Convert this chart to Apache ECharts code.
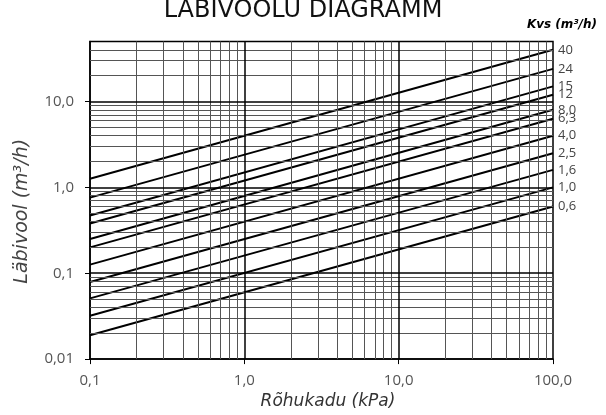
<!DOCTYPE html>
<html>
<head>
<meta charset="utf-8">
<script src="https://cdn.jsdelivr.net/npm/echarts@6/dist/echarts.min.js"></script>
<style>
  html, body { margin: 0; padding: 0; background: #fff; }
  #chart { width: 606px; height: 415px; }
</style>
</head>
<body>
<div id="chart"></div>
<script>
// Kvs joonte andmed (loetud pildilt)
var kvs_labels = ['40', '24', '15', '12', '8,0', '6,3', '4,0', '2,5', '1,6', '1,0', '0,6'];
var flow_at_01kpa = [1.26, 0.76, 0.47, 0.38, 0.25, 0.2, 0.126, 0.079, 0.051, 0.032, 0.019];
var flow_at_100kpa = [40, 24, 15, 12, 8, 6.3, 4, 2.5, 1.6, 1.0, 0.6];
var dp_start = 0.1;
var dp_end = 100;

// telgede jaotused
var x_major = [1, 10];
var x_minor = [0.2, 0.3, 0.4, 0.5, 0.6, 0.7, 0.8, 0.9,
               2, 3, 4, 5, 6, 7, 8, 9,
               20, 30, 40, 50, 60, 70, 80, 90];
var y_major = [0.1, 1, 10];
var y_minor = [0.02, 0.03, 0.04, 0.05, 0.06, 0.07, 0.08, 0.09,
               0.2, 0.3, 0.4, 0.5, 0.6, 0.7, 0.8, 0.9,
               2, 3, 4, 5, 6, 7, 8, 9,
               20, 30, 40];
var x_ticks = [0.1, 1, 10, 100];
var x_tick_labels = ['0,1', '1,0', '10,0', '100,0'];
var y_ticks = [0.01, 0.1, 1, 10];
var y_tick_labels = ['0,01', '0,1', '1,0', '10,0'];

var font = '"Open Sans", sans-serif';
var wide_font = '"DejaVu Sans", sans-serif';

function labelFor(ticks, labels) {
    return function (v) {
        for (var i = 0; i < ticks.length; i++) {
            if (Math.abs(Math.log10(v) - Math.log10(ticks[i])) < 1e-6) return labels[i];
        }
        return '';
    };
}

var grid_lines = [];
x_minor.forEach(function (v) {
    grid_lines.push({ xAxis: v, lineStyle: { color: '#555', width: 1, type: 'solid' } });
});
y_minor.forEach(function (v) {
    grid_lines.push({ yAxis: v, lineStyle: { color: '#555', width: 1, type: 'solid' } });
});
x_major.forEach(function (v) {
    grid_lines.push({ xAxis: v, lineStyle: { color: '#000', width: 1.5, type: 'solid' } });
});
y_major.forEach(function (v) {
    grid_lines.push({ yAxis: v, lineStyle: { color: '#000', width: 1.5, type: 'solid' } });
});

var series = [{
    type: 'line',
    data: [],
    silent: true,
    markLine: {
        silent: true,
        symbol: ['none', 'none'],
        label: { show: false },
        lineStyle: { type: 'solid' },
        data: grid_lines,
        animation: false
    }
}];

flow_at_100kpa.forEach(function (q, i) {
    series.push({
        name: kvs_labels[i],
        type: 'line',
        showSymbol: false,
        symbol: 'none',
        lineStyle: { color: '#000', width: 2 },
        data: [[dp_start, flow_at_01kpa[i]], [dp_end, q]],
        endLabel: {
            show: true,
            formatter: kvs_labels[i],
            color: '#444',
            fontFamily: font,
            fontSize: 13,
            distance: 5
        }
    });
});

var chart_option = {
    animation: false,
    backgroundColor: '#fff',
    title: [{
        text: 'LÄBIVOOLU DIAGRAMM',
        left: 'center',
        top: -6,
        textStyle: { fontFamily: wide_font, fontSize: 24, fontWeight: 'normal', color: '#111' }
    }, {
        text: 'Kvs (m³/h)',
        right: 4,
        top: 14,
        textStyle: { fontFamily: wide_font, fontSize: 12, fontWeight: 'bold', fontStyle: 'italic', color: '#000' }
    }],
    grid: {
        left: 90,
        right: 53,
        top: 41.5,
        bottom: 47,
        show: true,
        borderColor: '#000',
        borderWidth: 1.5,
        backgroundColor: 'transparent'
    },
    xAxis: {
        type: 'log',
        logBase: 10,
        min: 0.1,
        max: 100,
        name: 'Rõhukadu (kPa)',
        nameLocation: 'middle',
        nameGap: 31,
        nameTextStyle: { fontFamily: wide_font, fontSize: 17, fontStyle: 'italic', color: '#333', padding: [0, 0, 0, 13] },
        axisLine: { lineStyle: { color: '#000', width: 1.5 } },
        axisTick: { show: true, length: 5, customValues: x_ticks, lineStyle: { color: '#000' } },
        axisLabel: {
            customValues: x_ticks,
            formatter: labelFor(x_ticks, x_tick_labels),
            fontFamily: font, fontSize: 15, color: '#555', margin: 14
        },
        splitLine: { show: false },
        minorSplitLine: { show: false }
    },
    yAxis: {
        type: 'log',
        logBase: 10,
        min: 0.01,
        max: 50,
        name: 'Läbivool (m³/h)',
        nameLocation: 'middle',
        nameGap: 58,
        nameTextStyle: { fontFamily: wide_font, fontSize: 19, fontStyle: 'italic', color: '#444', padding: [0, 22, 0, 0] },
        axisLine: { lineStyle: { color: '#000', width: 1.5 } },
        axisTick: { show: true, length: 5, customValues: y_ticks, lineStyle: { color: '#000' } },
        axisLabel: {
            customValues: y_ticks,
            formatter: labelFor(y_ticks, y_tick_labels),
            fontFamily: font, fontSize: 15, color: '#555', margin: 16
        },
        splitLine: { show: false },
        minorSplitLine: { show: false }
    },
    series: series
};

var flow_chart = echarts.init(document.getElementById('chart'), null, { renderer: 'canvas' });
flow_chart.setOption(chart_option);
</script>
</body>
</html>
